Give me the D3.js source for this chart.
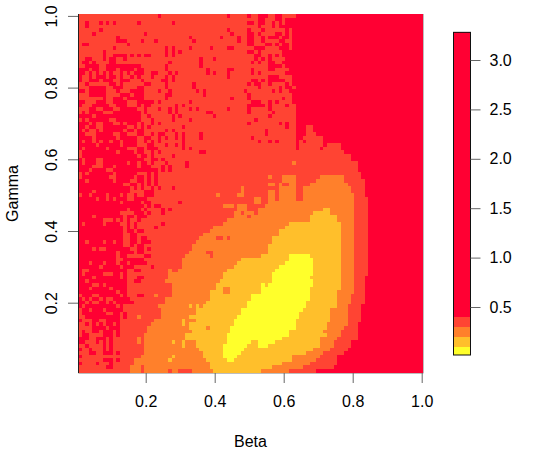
<!DOCTYPE html>
<html><head><meta charset="utf-8">
<script src="https://cdn.jsdelivr.net/npm/d3@7"></script>
<style>html,body{margin:0;padding:0;background:#fff}svg{display:block}text{font-family:"Liberation Sans",Arial,sans-serif;fill:#000}</style>
</head><body><div id="c"></div>
<script>
// ---- data ----
const betaTicks=[0.2,0.4,0.6,0.8,1.0];
const gammaTicks=[0.2,0.4,0.6,0.8,1.0];
const legendTicks=[0.5,1.0,1.5,2.0,2.5,3.0];
const breaks=[0.0142,0.1,0.2,0.3,0.4,3.28];
const palette=["#FFFF2B","#FFBF2B","#FF802B","#FF4433","#FF0033"];
// representative value (R^0) for the five contour classes, dark red to yellow
const classValues=[1.0,0.35,0.25,0.15,0.05];
// columns holding dark cells, row 0 = top (gamma 1), in the speckled zone
const darkCells=[
"23,43,49,52-54,57,58","52,53,57,58,60-62","2,6,8,10,17,27,49,50,52,53,56,58,60-62","2,52,56,58-62","6,43,49,53,60,62",
"4,19,44,49,50,52,57,58,60,62","11,32,41,46,49,50,53,55-57,59,60,62","11-13,18,22,33,46,49,50,53,58,59,62","1,2,14,49,50,54,55,57,59,60,62","10,25,27,32,38,43,44,51-53,58-60,62",
"7,25,27,29,49,50,52,59-62","7,10-13,15,17,19,20,25,27,51,52,55,57,59-62","2,3,7,9,10,13,35,39,51,53,55,60-62","1,2,4,9,10,26,35,50,52,55,56,59-62","2-5,8-17,25,35,55-58,60-62",
"0-2,4,5,8-10,12-15,17,18,25,37,43,44,50,55,56,61,62","0,1,3,5,7,9,12,14,16-18,21,22,26,28,37,39,43,50,52,60-62","0,3,5-7,9,10,12,15,17,21,25,27,43,55-57,62","0,3-5,7-9,12-14,18,24,25,27,50,51,53,55-59,62","2,9,10,12,19,20,25,33,49,51,52,55,60,62",
"3-7,10-12,17,18,25,33,52,58,60,61","0,1,3-7,11,15-18,23,26,34,36,48,56,58,61,62","3-7,12-14,16-18,25,26,36,49,62","7,10-12,14-18,25,44,49,59,62","0,1,5-7,10-13,17-21,23,32,50-52,55,57,62",
"0,4-8,11-13,17,19,20,28,30,49-53,55,60","3,4,7-9,12-16,19,23,26,28,32,34,43,49,55","1,3-6,10-17,19,26,28,37,38,49,56","0-3,5-17,20,27,29,39,55","1,3-8,11-17,21,27,32,51",
"0-2,4,7-9,12,14-16,18,21,23,49,58,60","0,1,3,4,7-13,16,18,20,30,60",
"0,2,5,7-12,14,15,17,18,25,27,54","0,1,5-9,12,13,17,18,21,23,24,28,30,35,54","0-3,5-10,12-16,19,20,23,25,28,30,35,50,63,64","0,2,3,5,7,8,10,11,13-16,19,21,23,30,52,55,57,63,65","0-4,6-11,13-16,20,21,25,28,30,63,71","0,2-7,9-13,17,18,20-22,30,32,63,70","1-10,12-15,17,18,21,23,35,36",
"1-16,18,19,21,27","0,2-4,7-18,21,22,24","0,2-4,7-13,15,16,18,19,21,25,31","0-3,7-9,11-16,18-20,24,26,31","0-2,4-7,10-22,24,26","1,3-9,11-16,20,22","1-8,11-15,17,18,20,22","0,1,3-9,11-14,17,18,20,22","0-12,15,16,18,20,22","0-14,16,18,21,23,27",
"0-3,5-14,19-21","1,2,4-7,9-11,13,16,19-21","0-4,6,7,9,11-13,16-19","0-11,13-17,19,20,29","0-18,20,22,23","0-13,15-17,19,24,26","0-11,16-18,20,24","0-3,5-12,14,15,17-19","0-6,10,12,14,17","0,2-6,8-11,14,16,24","0-12,14,16,22","0-12,14,15,17,18","0-12,15,16",
"0-7,8-12,15,16,18,19","0,1,3-6,8,9,11,12,15,16,18-20","0-12,15,17,18","0-3,5,8-14,17,18,20","0-10,12-15,17,18","0-10,12,13,19,20","0-10,13-18","0-2,4-6,8-10,12,13,15-19","0-5,7-11,13,14,15,21","0,3-13,16,17",
"0,2-6,10,11,13","0-3,5-11,13,17,18","0,1,3-13,16,17","0-3,6,8-13","0-2,4-8,10-13","0-10,12,13","1-3,6-11,13,17,18","0,2,4,5,7,10-14","0,1,3,6,7,9,11-15","0,2-10,12",
"1,2,4-6,8-12","1-7,10,11,13","2-11,13","0,4,5,8-11","2,4,6,8,9,11","4-7,9-11","1,4,5,7-9,11","1,2,7-9,11","0-2,5,6,7,9","0,1,5,7,9",
"2,7,9","0,3,7,9","3,4,7-9,11","0","7-9,11","0,5,9","8,9"];
// right end (exclusive column) of the non-dark field, per row
const class1End=[63,63,63,63,63,63,63,63,63,63,63,63,63,63,63,63,63,63,63,63,63,63,63,63,63,63,63,63,63,63,
63,63,63,63,71,71,76,76,77,79,79,81,81,81,82,82,83,83,83,83,83,84,84,84,84,84,84,84,84,84,84,84,84,84,84,84,84,84,84,84,84,84,84,83,83,83,83,83,83,83,83,82,82,82,82,82,81,81,81,81,81,79,79,78,77,75,75,75,74,69];
// orange band [start,end) for rows 45..99
const class2Start=[70,69,67,65,65,65,65,51,46,46,45,45,43,42,39,38,36,35,34,33,33,32,31,30,30,30,29,26,26,25,27,27,27,27,25,25,23,24,24,24,22,21,20,20,19,19,19,19,19,19,18,16,16,15,15];
const class2End=[77,77,78,79,79,80,80,80,80,80,80,80,80,80,80,80,80,80,80,80,80,80,80,80,80,80,80,80,80,80,80,80,80,79,79,79,78,78,78,78,78,78,77,76,76,75,74,74,73,71,70,69,67,65,63];
// amber band [start,end) for rows 54..99
const class3Start=[71,68,67,67,61,60,58,58,56,56,55,55,55,53,47,46,45,43,42,42,41,40,40,38,38,38,37,36,34,34,32,34,32,32,33,31,31,34,34,35,36,36,37,38,38,39];
const class3End=[73,73,75,75,76,76,76,76,76,76,76,76,76,76,76,76,76,76,76,76,76,76,76,75,75,75,75,75,73,73,73,73,72,72,71,72,70,70,70,68,66,62,62,59,56,53];
// yellow band [start,end) for rows 67..96
const class4Start=[61,61,60,58,57,56,56,56,53,53,53,50,50,49,49,47,47,46,45,45,44,44,43,43,43,42,42,42,42,43];
const class4End=[67,68,68,68,68,68,67,68,68,67,67,67,67,66,66,65,64,64,63,63,63,61,61,59,57,55,48,47,46,45];
// isolated cells [row, column, class]
const isolated=[[31,66,1],[31,67,1],[32,66,1],[32,67,1],[33,66,1],[33,67,1],[33,68,1],[41,62,2],[45,55,2],[45,59,2],[45,60,2],[45,61,2],[45,62,2],[46,59,2],[46,60,2],[46,61,2],[46,62,2],[47,55,2],[47,56,2],[47,58,2],[47,61,2],[47,62,2],[48,47,2],[48,58,2],[48,59,2],[48,60,2],[48,61,2],[48,62,2],[49,47,2],[49,55,2],[49,56,2],[49,58,2],[49,59,2],[49,60,2],[49,61,2],[49,62,2],[50,40,2],[50,46,2],[50,47,2],[50,55,2],[50,56,2],[50,58,2],[50,59,2],[50,60,2],[50,61,2],[50,62,2],[51,51,2],[51,52,2],[51,55,2],[51,56,2],[51,58,2],[51,59,2],[51,60,2],[51,61,2],[51,62,2],[52,49,1],[52,50,1],[52,53,1],[52,54,1],[53,42,2],[53,43,2],[53,44,2],[53,49,1],[53,50,1],[53,51,1],[53,52,1],[53,53,1],[54,49,1],[54,50,1],[54,51,1],[55,47,1],[55,51,1],[56,49,1],[62,40,1],[62,41,1],[62,43,1],[66,37,1],[66,38,1],[67,38,1],[71,26,2],[75,54,3],[76,42,2],[76,43,2],[77,42,2],[77,43,2],[78,22,2],[81,32,3],[81,34,3],[84,17,2],[85,30,3],[86,30,3],[87,37,2],[90,17,2],[91,17,2],[91,27,3],[91,30,3],[91,50,3],[91,51,3],[92,30,3],[92,49,3],[92,50,3],[92,51,3],[95,27,3],[96,26,3],[98,18,1],[99,18,1],[99,26,1],[99,29,1],[99,30,1],[99,31,1],[99,32,1],[99,61,1],[99,62,1]];
const betaTitle="Beta",gammaTitle="Gamma";

// ---- drawing ----
const W=544,H=471;
const svg=d3.select("#c").append("svg").attr("width",W).attr("height",H);
const x=d3.scaleLinear().domain([0.2,1.0]).range([145.7,421.7]);
const y=d3.scaleLinear().domain([0.2,1.0]).range([302.7,15.9]);
const colour=d3.scaleThreshold().domain(breaks.slice(1,-1)).range(palette);
const cols=d3.range(100),rows=d3.range(100);
const grid=rows.map(r=>cols.map(c=>{
  let k=c<class1End[r]?1:0;
  if(r>=45&&c>=class2Start[r-45]&&c<class2End[r-45])k=2;
  if(r>=54&&c>=class3Start[r-54]&&c<class3End[r-54])k=3;
  if(r>=67&&r<97&&c>=class4Start[r-67]&&c<class4End[r-67])k=4;
  return k;}));
isolated.forEach(([r,c,k])=>grid[r][c]=k);
darkCells.forEach((spec,r)=>spec.split(",").forEach(part=>{
  const [a,b]=part.split("-").map(Number);
  d3.range(a,(b===undefined?a:b)+1).forEach(c=>{ if(grid[r][c]<=1) grid[r][c]=0; });
}));
const cells=[];
rows.forEach(r=>cols.forEach(c=>cells.push({r,c,v:classValues[grid[r][c]]})));
svg.append("g").attr("shape-rendering","crispEdges").selectAll("rect").data(cells).join("rect")
 .attr("x",d=>x((d.c+1)/100-0.005)).attr("width",d=>x((d.c+2)/100-0.005)-x((d.c+1)/100-0.005)+0.4)
 .attr("y",d=>y((100-d.r)/100+0.005)).attr("height",d=>y((99-d.r)/100+0.005)-y((100-d.r)/100+0.005)+0.4)
 .attr("fill",d=>colour(d.v));

const ax=svg.append("g").attr("transform","translate(0,373)").call(d3.axisBottom(x).tickValues(betaTicks).tickFormat(d3.format(".1f")).tickSize(10));
ax.select(".domain").attr("stroke","#bdbdbd").attr("d","M78.4,0.5H423.4");
const ay=svg.append("g").attr("transform","translate(78,0)").call(d3.axisLeft(y).tickValues(gammaTicks).tickFormat(d3.format(".1f")).tickSize(10));
ay.select(".domain").attr("stroke","#222").attr("d","M0.5,14V373");
ax.selectAll(".tick line").attr("stroke","#666");
ay.selectAll(".tick line").attr("stroke","#666");
ax.selectAll("text").attr("font-size",16).attr("y",28.5).attr("dy","0.35em").style("font-family",'"Liberation Sans"');
ay.selectAll("text").attr("font-size",16).style("font-family",'"Liberation Sans"').attr("text-anchor","middle").attr("dy",null).attr("x",null).attr("y",null)
  .attr("transform","translate(-21,0) rotate(-90)");
svg.append("line").attr("x1",423.5).attr("x2",423.5).attr("y1",14).attr("y2",373).attr("stroke","#bdbdbd");
svg.append("text").attr("x",250.5).attr("y",446.5).attr("text-anchor","middle").attr("font-size",16).text(betaTitle);
svg.append("text").attr("transform","translate(17.5,193.5) rotate(-90)").attr("text-anchor","middle").attr("font-size",16).text(gammaTitle);

// legend
const ly=d3.scaleLinear().domain([0.5,3.0]).range([307,60]);
const lx0=453,lx1=470;
const lrects=d3.pairs(breaks);
const lg=svg.append("g");
lg.append("g").attr("shape-rendering","crispEdges").selectAll("rect").data(lrects).join("rect")
 .attr("x",lx0).attr("width",lx1-lx0).attr("y",d=>ly(d[1])).attr("height",d=>ly(d[0])-ly(d[1]))
 .attr("fill",d=>colour((d[0]+d[1])/2));
lg.append("rect").attr("x",lx0+0.5).attr("y",ly(breaks[5])).attr("width",lx1-lx0).attr("height",ly(breaks[0])-ly(breaks[5])).attr("fill","none").attr("stroke","#111");
const al=svg.append("g").attr("transform","translate(470.5,0)").call(d3.axisRight(ly).tickValues(legendTicks).tickFormat(d3.format(".1f")).tickSize(10).tickPadding(9));
al.select(".domain").remove();
al.selectAll(".tick line").attr("stroke","#666");
al.selectAll("text").attr("font-size",16).style("font-family",'"Liberation Sans"');
</script></body></html>
